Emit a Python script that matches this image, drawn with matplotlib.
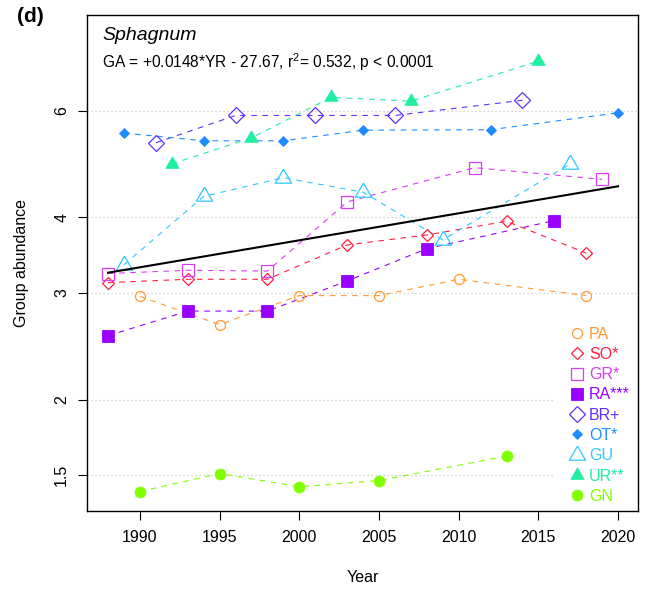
import matplotlib
matplotlib.use("Agg")
import matplotlib.pyplot as plt
from matplotlib.lines import Line2D
from matplotlib.patches import Rectangle
import numpy as np

plt.rcParams['font.family'] = ['Liberation Sans', 'DejaVu Sans']
plt.rcParams['mathtext.fontset'] = 'custom'
plt.rcParams['mathtext.rm'] = 'Liberation Sans'

# ---- data ----
pa_years = [1990, 1995, 2000, 2005, 2010, 2018]
pa_vals = [2.96, 2.66, 2.97, 2.97, 3.16, 2.97]
so_years = [1988, 1993, 1998, 2003, 2008, 2013, 2018]
so_vals = [3.12, 3.16, 3.16, 3.60, 3.74, 3.94, 3.49]
gr_years = [1988, 1993, 1998, 2003, 2011, 2019]
gr_vals = [3.23, 3.27, 3.26, 4.24, 4.83, 4.62]
ra_years = [1988, 1993, 1998, 2003, 2008, 2016]
ra_vals = [2.55, 2.80, 2.80, 3.14, 3.55, 3.95]
br_years = [1991, 1996, 2001, 2006, 2014]
br_vals = [5.31, 5.89, 5.89, 5.89, 6.24]
ot_years = [1989, 1994, 1999, 2004, 2012, 2020]
ot_vals = [5.51, 5.35, 5.35, 5.57, 5.58, 5.95]
gu_years = [1989, 1994, 1999, 2004, 2009, 2017]
gu_vals = [3.34, 4.33, 4.65, 4.40, 3.67, 4.90]
ur_years = [1992, 1997, 2002, 2007, 2015]
ur_vals = [4.90, 5.41, 6.31, 6.22, 7.24]
gn_years = [1990, 1995, 2000, 2005, 2013]
gn_vals = [1.41, 1.51, 1.436, 1.47, 1.614]

reg_years = [1988, 2020]
reg_vals = [3.24, 4.50]

labels = ["PA", "SO*", "GR*", "RA***", "BR+", "OT*", "GU", "UR**", "GN"]
y_ticks = [1.5, 2, 3, 4, 6]
y_ticklabels = ["1.5", "2", "3", "4", "6"]
x_ticks = [1990, 1995, 2000, 2005, 2010, 2015, 2020]

# ---- styles ----
FS = 11.5
tri = [(0, 1), (-0.866, -0.5), (0.866, -0.5), (0, 1)]
series = [
    (pa_years, pa_vals, '#FF9933', 'o', 7.2, False),
    (so_years, so_vals, '#FF1F3F', 'D', 6.5, False),
    (gr_years, gr_vals, '#D93DF2', 's', 8.0, False),
    (ra_years, ra_vals, '#9900FF', 's', 8.2, True),
    (br_years, br_vals, '#6030FF', 'D', 8.0, False),
    (ot_years, ot_vals, '#1E8CFF', 'D', 5.2, True),
    (gu_years, gu_vals, '#2EC8FF', tri, 13.5, False),
    (ur_years, ur_vals, '#20EEA0', tri, 11.0, True),
    (gn_years, gn_vals, '#80FF00', 'o', 7.8, True),
]

W, H = 646, 591
fig = plt.figure(figsize=(W / 100, H / 100), dpi=100)
L, R, T, B = 87.3, 638, 15, 510.7
ax = fig.add_axes([L / W, 1 - B / H, (R - L) / W, (B - T) / H])

ax.set_yscale('log')
ax.set_xlim(1986.7, 2021.25)
ax.set_ylim(1.311, 8.63)

for yv in y_ticks:
    ax.axhline(yv, color='#c8c8c8', lw=0.9, linestyle=(0, (1, 2.2)), zorder=0)

# white legend background (hides gridlines behind the key)
ax.add_patch(Rectangle(((553 - L) / (R - L), (B - 508) / (B - T)),
                       (R - 553) / (R - L) - 0.002, (508 - 318) / (B - T),
                       transform=ax.transAxes, facecolor='white', edgecolor='none',
                       zorder=1))

handles = []
for xs, ys, c, m, ms, filled in series:
    ax.plot(xs, ys, color=c, lw=0.8, linestyle=(0, (5, 5)), zorder=2)
    ax.plot(xs, ys, linestyle='None', marker=m, markersize=ms,
            markerfacecolor=(c if filled else 'none'), markeredgecolor=c,
            markeredgewidth=(0.6 if filled else 0.9), zorder=3)
    handles.append(Line2D([], [], linestyle='None', marker=m, markersize=ms,
                          markerfacecolor=(c if filled else 'none'),
                          markeredgecolor=c, markeredgewidth=(0.6 if filled else 0.9)))

ax.plot(reg_years, reg_vals, color='black', lw=1.5, zorder=4)

ax.set_yticks(y_ticks)
ax.set_yticklabels(y_ticklabels)
ax.yaxis.set_minor_locator(matplotlib.ticker.NullLocator())
ax.set_xticks(x_ticks)
ax.set_xticklabels([str(v) for v in x_ticks])
ax.tick_params(axis='x', length=6.5, width=0.8, pad=7.5, labelsize=FS)
ax.tick_params(axis='y', length=6.5, width=0.8, pad=6.5, labelsize=FS, labelrotation=90)
for lab in ax.get_yticklabels():
    lab.set_va('center')
for sp in ax.spines.values():
    sp.set_linewidth(1.0)

leg = ax.legend(handles, labels, loc='upper left', bbox_to_anchor=(0.866, 0.381),
                fontsize=FS, frameon=False, handlelength=0.96, handletextpad=0.3,
                labelspacing=0.33, borderpad=0.3, borderaxespad=0)
for txt, s in zip(leg.get_texts(), series):
    txt.set_color(s[2])
leg.set_zorder(5)

fig.text(17 / W, 1 - 17 / H, '(d)', fontsize=15, fontweight='bold', va='center', ha='left')
fig.text(102 / W, 1 - 35 / H, 'Sphagnum', fontsize=14, style='italic', va='center', ha='left')
fig.text(102 / W, 1 - 61.7 / H, r'GA = +0.0148*YR - 27.67, $\mathregular{r^2}$= 0.532, p < 0.0001',
         fontsize=FS - 0.3, va='center', ha='left')
fig.text((L + R) / 2 / W, 1 - 578 / H, 'Year', fontsize=FS, va='center', ha='center')
fig.text(22 / W, 1 - (T + B) / 2 / H, 'Group abundance', fontsize=FS, va='center', ha='center',
         rotation=90)

fig.savefig('out.png', dpi=100)
